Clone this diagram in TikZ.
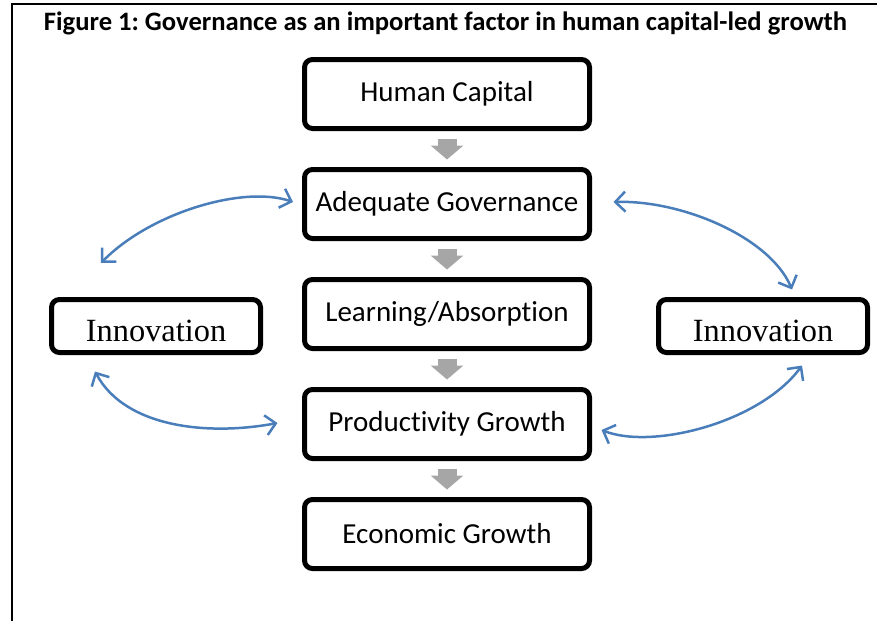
\documentclass[tikz,border=0pt]{standalone}
\usepackage{fontspec}
\setmainfont{Carlito}[Ligatures = NoCommon]
\newfontfamily\timesfont{Liberation Serif}
\usepackage{tikz}
\usetikzlibrary{arrows.meta}
\definecolor{arrgray}{RGB}{166, 166, 166}
\definecolor{lblue}{RGB}{74, 126, 187}
\frenchspacing

\begin{document}
\begin{tikzpicture}[x = 0.5pt, y = -0.5pt,
	box/.style = {draw, line width = 2.5pt, rounded corners = 4pt, minimum width = 142.5pt, minimum height = 34.5pt, inner sep = 0pt, font = \fontsize{14.5}{17}\selectfont},
	innov/.style = {box, minimum width = 104.5pt, minimum height = 26.5pt, text height = 15pt, text depth = 0pt, font = \timesfont\fontsize{16.2}{19}\selectfont},
	flow/.style = {arrgray, line width = 9.5pt, -{Triangle[length = 7pt, width = 16pt]}, shorten <= 3.75pt, shorten >= 3.75pt},
	link/.style = {lblue, line width = 1.25pt, {Straight Barb[length = 5pt, width = 10pt]}-{Straight Barb[length = 5pt, width = 10pt]}}]
			\useasboundingbox (0,0) rectangle (877,621);
			\draw[line width = 1.3pt] (12,621) -- (12,4) -- (877,4);
			\node (title) at (445.5,23) [font = \fontsize{13.3}{15}\selectfont\bfseries] {Figure 1: Governance as an important factor in human capital-led growth};
			\node (hc) at (447,94) [box] {Human Capital};
			\node (ag) at (447,204) [box] {Adequate Governance};
			\node (la) at (447,314) [box] {Learning/Absorption};
			\node (pg) at (447,424) [box] {Productivity Growth};
			\node (eg) at (447,534) [box] {Economic Growth};
			\node (il) at (156,326) [innov] {Innovation};
			\node (ir) at (763,326) [innov] {Innovation};
			\draw[flow] (hc) -- (ag);
			\draw[flow] (ag) -- (la);
			\draw[flow] (la) -- (pg);
			\draw[flow] (pg) -- (eg);
			\draw[link] ([shift = {(-55,-34)}]il.north) .. controls +(49,-50) and +(-50,-17) .. ([shift = {(-9,-2)}]ag.west);
			\draw[link] ([shift = {(21.5,-2)}]ag.east) .. controls +(69,-2) and +(-22,-52) .. ([shift = {(29,-7.5)}]ir.north);
			\draw[link] ([shift = {(-61,16.5)}]il.south) .. controls +(30,56) and +(-70,13) .. ([shift = {(-24.5,-1)}]pg.west);
			\draw[link] ([shift = {(9.5,6)}]pg.east) .. controls +(51,20) and +(-42,57) .. ([shift = {(39,10.5)}]ir.south);
\end{tikzpicture}
\end{document}
